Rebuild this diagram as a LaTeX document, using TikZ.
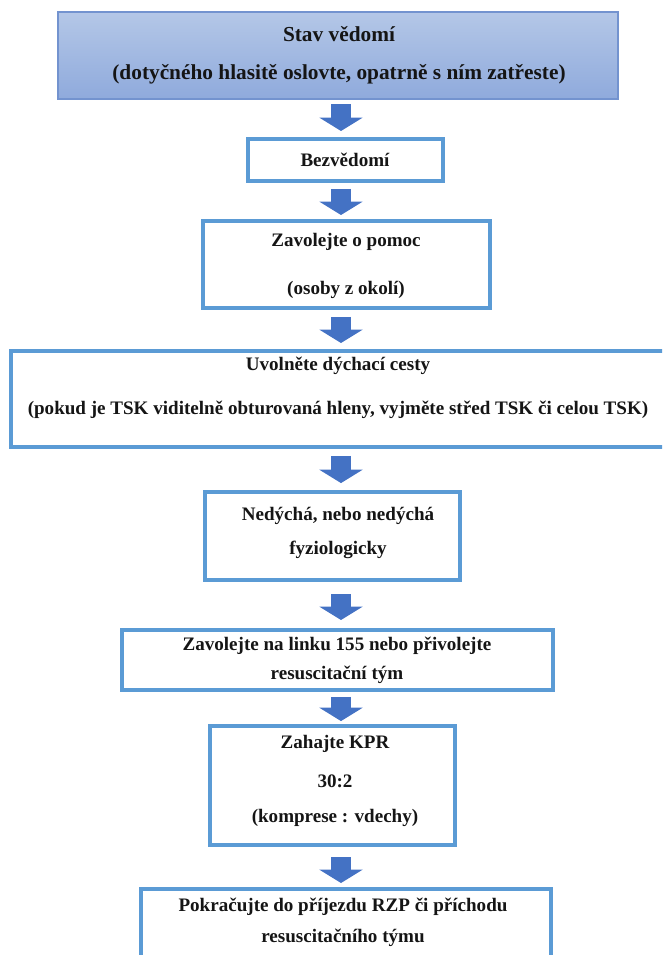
\documentclass[tikz,border=0pt]{standalone}
\usepackage{fontspec}
\setmainfont{Liberation Serif}
\usetikzlibrary{arrows.meta}
\definecolor{boxblue}{HTML}{5B9BD5}
\definecolor{arrowblue}{HTML}{4472C4}
\definecolor{gradtop}{HTML}{B4C7E7}
\definecolor{gradbot}{HTML}{8FAADC}
\definecolor{topedge}{HTML}{7393CF}
\definecolor{ink}{HTML}{151515}
\begin{document}
\begin{tikzpicture}[x=0.75pt,y=-0.75pt,
  stepbox/.style={draw=boxblue, line width=2.4pt, fill=white, inner sep=0pt},
  topbox/.style={draw=topedge, line width=0.8pt, top color=gradtop, bottom color=gradbot, inner sep=0pt},
  txt/.style={text=ink, font=\bfseries\fontsize{14.3}{17}\selectfont, inner sep=0pt, anchor=center},
  toptxt/.style={text=ink, font=\bfseries\fontsize{16}{19}\selectfont, inner sep=0pt, anchor=center},
  bigarrow/.style={draw=arrowblue, line width=15.5pt, -{Triangle[width=32pt,length=10pt]}}
]
\useasboundingbox (0,0) rectangle (662,955);
\clip (0,0) rectangle (662,955);
\fill[white] (0,0) rectangle (662,955);
\coordinate (ax) at (341,0);

% boxes
\node[topbox, minimum width=420pt, minimum height=65.25pt] (b1) at (338,55.5) {};
\node[stepbox, minimum width=146.25pt, minimum height=31.5pt] (b2) at (345.5,160) {};
\node[stepbox, minimum width=215.25pt, minimum height=65.25pt] (b3) at (346.5,264.5) {};
\node[stepbox, minimum width=516.75pt, minimum height=72pt] (b4) at (355.5,399) {};
\node[stepbox, minimum width=191.25pt, minimum height=66pt] (b5) at (332.5,536) {};
\node[stepbox, minimum width=323.25pt, minimum height=45pt] (b6) at (337.5,660) {};
\node[stepbox, minimum width=183.75pt, minimum height=89.25pt] (b7) at (332.5,785.5) {};
\node[stepbox, minimum width=307.5pt, minimum height=64.5pt] (b8) at (346,932) {};

% texts
\node[toptxt] (t1a) at (339,34) {Stav vědomí};
\node[toptxt] (t1b) at (339,74) {(dotyčného hlasitě oslovte, opatrně s ním zatřeste)};
\node[txt] (t2) at (345,160) {Bezvědomí};
\node[txt] (t3a) at (346,242) {Zavolejte o pomoc};
\node[txt] (t3b) at (346,290) {(osoby z okolí)};
\node[txt] (t4a) at (338,366) {Uvolněte dýchací cesty};
\node[txt] (t4b) at (338,410) {(pokud je TSK viditelně obturovaná hleny, vyjměte střed TSK či celou TSK)};
\node[txt] (t5a) at (338,516) {Nedýchá, nebo nedýchá};
\node[txt] (t5b) at (338,550) {fyziologicky};
\node[txt] (t6a) at (337,646) {Zavolejte na linku 155 nebo přivolejte};
\node[txt] (t6b) at (337,675) {resuscitační tým};
\node[txt] (t7a) at (335,744) {Zahajte KPR};
\node[txt] (t7b) at (335,781) {30:2};
\node[txt] (t7c) at (335,818) {(komprese : vdechy)};
\node[txt] (t8a) at (343,907) {Pokračujte do příjezdu RZP či příchodu};
\node[txt] (t8b) at (343,938) {resuscitačního týmu};

% arrows
\draw[bigarrow, shorten <=3.4pt, shorten >=4.8pt] (b1.south -| ax) -- (b2.north -| ax);
\draw[bigarrow, shorten <=4.8pt, shorten >=3.3pt] (b2.south -| ax) -- (b3.north -| ax);
\draw[bigarrow, shorten <=5.5pt, shorten >=4.8pt] (b3.south -| ax) -- (b4.north -| ax);
\draw[bigarrow, shorten <=5.5pt, shorten >=5.5pt] (b4.south -| ax) -- (b5.north -| ax);
\draw[bigarrow, shorten <=9.3pt, shorten >=6.3pt] (b5.south -| ax) -- (b6.north -| ax);
\draw[bigarrow, shorten <=4pt, shorten >=2.5pt] (b6.south -| ax) -- (b7.north -| ax);
\draw[bigarrow, shorten <=7.8pt, shorten >=3.3pt] (b7.south -| ax) -- (b8.north -| ax);
\end{tikzpicture}
\end{document}
